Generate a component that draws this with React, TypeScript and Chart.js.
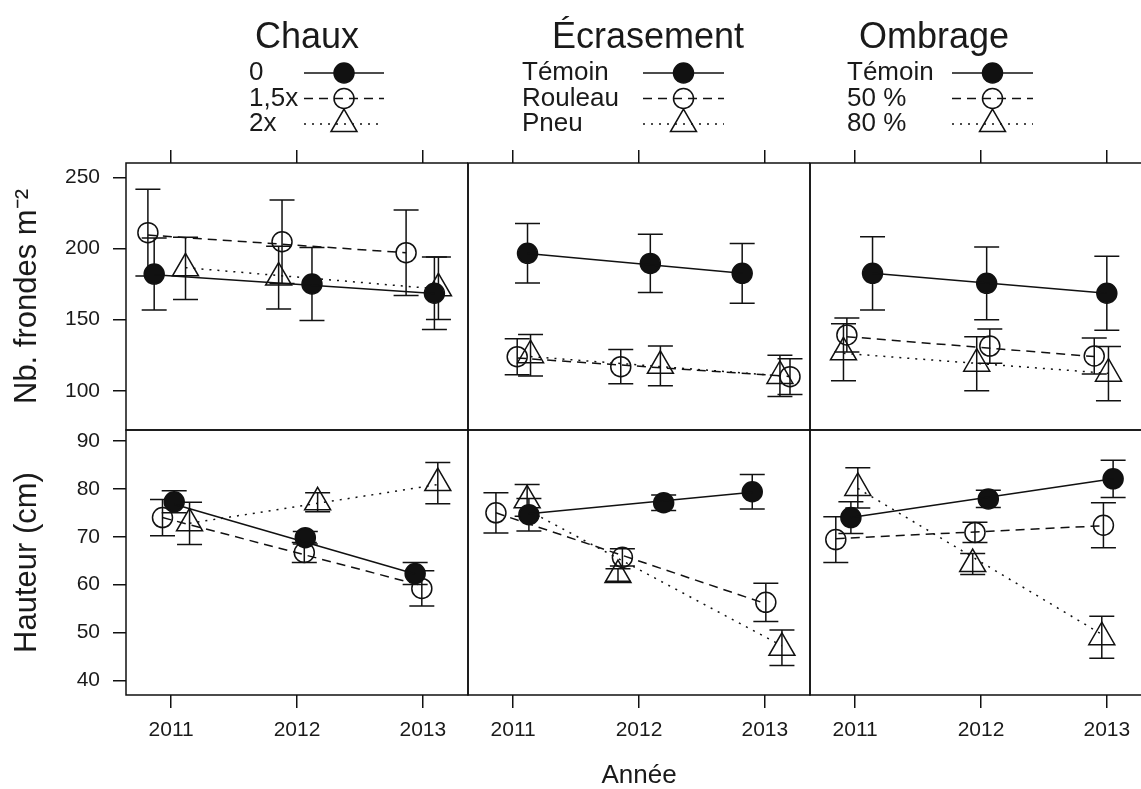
import React, { useEffect, useRef } from 'react';
import { Chart, registerables } from 'chart.js';

Chart.register(...registerables);

// ---------------- data ----------------
const YEARS = [2011, 2012, 2013];
const TREATMENTS = ['Chaux', 'Écrasement', 'Ombrage'];
const LEVELS = [
  ['0', '1,5x', '2x'],
  ['Témoin', 'Rouleau', 'Pneu'],
  ['Témoin', '50 %', '80 %'],
];
const ROW_TITLES = ['Nb. frondes m⁻²', 'Hauteur (cm)'];
const X_TITLE = 'Année';
const FRONDES_TICKS = [100, 150, 200, 250];
const HAUTEUR_TICKS = [40, 50, 60, 70, 80, 90];

// x = year with the small dodge of each point, [treatment][level][year]
const frondesX = [
  [[2010.865, 2012.119, 2013.092], [2010.815, 2011.881, 2012.867], [2011.114, 2011.854, 2013.124]],
  [[2011.114, 2012.09, 2012.82], [2011.032, 2011.855, 2013.2], [2011.138, 2012.17, 2013.12]],
  [[2011.138, 2012.045, 2013.0], [2010.934, 2012.07, 2012.9], [2010.907, 2011.966, 2013.013]],
];
const frondesMean = [
  [[182.0, 175.0, 168.5], [211.1, 204.7, 197.0], [186.0, 179.5, 172.0]],
  [[196.6, 189.5, 182.5], [123.9, 116.9, 109.9], [125.0, 117.5, 110.4]],
  [[182.5, 175.5, 168.5], [139.2, 131.4, 124.4], [127.0, 119.0, 112.0]],
];
const frondesSE = [
  [[25.3, 25.7, 25.5], [30.5, 29.3, 30.0], [21.8, 22.0, 22.0]],
  [[20.9, 20.5, 21.0], [12.7, 12.0, 12.5], [14.6, 14.0, 14.5]],
  [[25.8, 25.6, 26.0], [12.0, 12.0, 12.6], [20.0, 19.0, 19.0]],
];
const frondesFit = [
  [[181.5, 168.3], [209.4, 197.0], [186.5, 171.5]],
  [[196.5, 182.5], [123.0, 110.0], [124.0, 110.5]],
  [[182.5, 168.5], [138.0, 124.0], [126.3, 112.2]],
];

const hauteurX = [
  [[2011.024, 2012.066, 2012.939], [2010.931, 2012.058, 2012.992], [2011.146, 2012.164, 2013.119]],
  [[2011.125, 2012.196, 2012.9], [2010.863, 2011.868, 2013.008], [2011.111, 2011.833, 2013.136]],
  [[2010.966, 2012.058, 2013.05], [2010.846, 2011.952, 2012.973], [2011.021, 2011.934, 2012.96]],
];
const hauteurMean = [
  [[77.3, 69.8, 62.3], [74.0, 66.7, 59.2], [72.8, 77.2, 81.2]],
  [[74.6, 77.1, 79.4], [75.0, 65.7, 56.3], [77.6, 62.0, 46.8]],
  [[74.0, 77.9, 82.1], [69.4, 70.9, 72.4], [80.2, 64.3, 49.0]],
];
const hauteurSE = [
  [[2.3, 1.3, 2.3], [3.8, 2.1, 3.7], [4.4, 2.0, 4.3]],
  [[3.4, 1.6, 3.6], [4.2, 1.8, 4.0], [3.3, 1.3, 3.7]],
  [[3.3, 1.8, 3.9], [4.8, 2.1, 4.7], [4.2, 2.2, 4.4]],
];
const hauteurFit = [
  [[76.8, 62.2], [74.0, 59.8], [72.8, 80.9]],
  [[74.8, 79.3], [75.0, 56.0], [75.6, 47.2]],
  [[74.0, 82.1], [69.6, 72.3], [80.1, 49.6]],
];

// ---------------- styling / layout ----------------
const FONT = "'Liberation Sans', Arimo, Arial, Helvetica, sans-serif";
const INK = '#111111';
const TEXT = '#1a1a1a';
const CANVAS_W = 1141;
const CANVAS_H = 789;
const LW = 1.5;

const SERIES_STYLE = [
  { pointStyle: 'circle', radius: 10, filled: true, dash: [] as number[] },
  { pointStyle: 'circle', radius: 10, filled: false, dash: [9, 6] },
  { pointStyle: 'triangle', radius: 15, filled: false, dash: [2, 6] },
];

const KEY_LAYOUT = [
  { titleX: 307, textX: 249, lineX: [304, 384] },
  { titleX: 648, textX: 522, lineX: [643, 724] },
  { titleX: 934, textX: 847, lineX: [952, 1033] },
];
const KEY_TITLE_Y = 48;
const KEY_ROW_Y = [73, 98.5, 124];

// panel x-range; the third column is cut by the right edge of the picture
const X_MIN = 2010.641;
const X_MAX = 2013.359;
const COL_PX = [342, 342, 331];
const FULL_COL_PX = 342;

const ROWS = [
  { id: 'yF', x: frondesX, mean: frondesMean, se: frondesSE, fit: frondesFit, ticks: FRONDES_TICKS, min: 72.4, max: 260.05, weight: 1, stackWeight: 267, title: ROW_TITLES[0] },
  { id: 'yH', x: hauteurX, mean: hauteurMean, se: hauteurSE, fit: hauteurFit, ticks: HAUTEUR_TICKS, min: 36.93, max: 92.3, weight: 0, stackWeight: 265, title: ROW_TITLES[1] },
];

function buildDatasets() {
  const ds: any[] = [];
  ROWS.forEach((row) => {
    TREATMENTS.forEach((_, c) => {
      LEVELS[c].forEach((lvl, s) => {
        const st = SERIES_STYLE[s];
        const xs = row.x[c][s];
        ds.push({
          label: `${TREATMENTS[c]} ${lvl} fit`,
          xAxisID: `x${c}`,
          yAxisID: row.id,
          showLine: true,
          data: [
            { x: xs[0], y: row.fit[c][s][0] },
            { x: xs[xs.length - 1], y: row.fit[c][s][1] },
          ],
          borderColor: INK,
          borderWidth: LW,
          borderDash: st.dash,
          pointRadius: 0,
          fill: false,
          tension: 0,
        });
        ds.push({
          label: `${TREATMENTS[c]} ${lvl}`,
          xAxisID: `x${c}`,
          yAxisID: row.id,
          showLine: false,
          data: xs.map((x, i) => ({ x, y: row.mean[c][s][i] })),
          errors: row.se[c][s],
          pointStyle: st.pointStyle,
          pointRadius: st.radius,
          pointBackgroundColor: st.filled ? INK : 'rgba(0,0,0,0)',
          pointBorderColor: INK,
          pointBorderWidth: LW,
          borderColor: INK,
        });
      });
    });
  });
  return ds;
}

const gridTicks = {
  display: true,
  drawOnChartArea: false,
  drawTicks: true,
  tickLength: 13,
  tickWidth: LW,
  tickColor: INK,
  lineWidth: LW,
  color: INK,
};

function colMax(c: number) {
  return X_MIN + ((X_MAX - X_MIN) * COL_PX[c]) / FULL_COL_PX;
}

function noPad(s: any) {
  s.paddingLeft = 0;
  s.paddingRight = 0;
  s.paddingTop = 0;
  s.paddingBottom = 0;
}

function buildScales() {
  const scales: any = {};
  TREATMENTS.forEach((_, c) => {
    scales[`x${c}`] = {
      type: 'linear',
      position: 'bottom',
      stack: 'colsB',
      stackWeight: COL_PX[c],
      weight: c,
      min: X_MIN,
      max: colMax(c),
      afterBuildTicks: (s: any) => { s.ticks = YEARS.map((v) => ({ value: v })); },
      afterFit: (s: any) => { s.height = 94; noPad(s); },
      border: { display: false },
      grid: gridTicks,
      ticks: {
        autoSkip: false, maxRotation: 0, minRotation: 0, padding: 10,
        color: TEXT, font: { family: FONT, size: 21 },
        callback: (v: any) => String(v),
      },
      title: c === 1
        ? { display: true, text: X_TITLE, color: TEXT, font: { family: FONT, size: 26, lineHeight: 1 }, padding: { top: 0, bottom: 0 } }
        : { display: false },
    };
    scales[`xt${c}`] = {
      type: 'linear',
      position: 'top',
      stack: 'colsT',
      stackWeight: COL_PX[c],
      weight: 2 - c,
      min: X_MIN,
      max: colMax(c),
      afterBuildTicks: (s: any) => { s.ticks = YEARS.map((v) => ({ value: v })); },
      afterFit: (s: any) => { s.height = 13; noPad(s); },
      border: { display: false },
      grid: gridTicks,
      ticks: { display: false },
    };
  });
  ROWS.forEach((row) => {
    scales[row.id] = {
      type: 'linear',
      position: 'left',
      stack: 'rows',
      stackWeight: row.stackWeight,
      weight: row.weight,
      min: row.min,
      max: row.max,
      afterBuildTicks: (s: any) => { s.ticks = row.ticks.map((v) => ({ value: v })); },
      afterFit: (s: any) => { s.width = 126; noPad(s); },
      border: { display: false },
      grid: gridTicks,
      ticks: {
        autoSkip: false, padding: 13, color: TEXT,
        font: { family: FONT, size: 21 },
        callback: (v: any) => String(v),
      },
      title: {
        display: true, text: row.title, color: TEXT,
        font: { family: FONT, size: 31, lineHeight: 1 },
        padding: { top: 12, bottom: 0 },
      },
    };
  });
  return scales;
}

const framePlugin = {
  id: 'panelFrames',
  beforeDatasetsDraw(chart: any) {
    const { ctx } = chart;
    ctx.save();
    ctx.strokeStyle = INK;
    ctx.lineWidth = LW;
    TREATMENTS.forEach((_, c) => {
      ROWS.forEach((row) => {
        const xs = chart.scales[`x${c}`];
        const ys = chart.scales[row.id];
        ctx.beginPath();
        ctx.moveTo(xs.right, ys.top);
        ctx.lineTo(xs.left, ys.top);
        ctx.lineTo(xs.left, ys.bottom);
        ctx.lineTo(xs.right, ys.bottom);
        if (COL_PX[c] === FULL_COL_PX) ctx.lineTo(xs.right, ys.top);
        ctx.stroke();
      });
    });
    // error bars
    chart.data.datasets.forEach((d: any) => {
      if (!d.errors) return;
      const xs = chart.scales[d.xAxisID];
      const ys = chart.scales[d.yAxisID];
      d.data.forEach((p: any, j: number) => {
        const x = xs.getPixelForValue(p.x);
        const y1 = ys.getPixelForValue(p.y + d.errors[j]);
        const y2 = ys.getPixelForValue(p.y - d.errors[j]);
        ctx.beginPath();
        ctx.moveTo(x, y1); ctx.lineTo(x, y2);
        ctx.moveTo(x - 12.5, y1); ctx.lineTo(x + 12.5, y1);
        ctx.moveTo(x - 12.5, y2); ctx.lineTo(x + 12.5, y2);
        ctx.stroke();
      });
    });
    ctx.restore();
  },
};

function drawKeyMarker(ctx: CanvasRenderingContext2D, s: number, x: number, y: number) {
  const st = SERIES_STYLE[s];
  ctx.beginPath();
  ctx.setLineDash([]);
  if (st.pointStyle === 'triangle') {
    const r = st.radius;
    const dx = r * Math.sin((2 * Math.PI) / 3);
    ctx.moveTo(x, y - r);
    ctx.lineTo(x + dx, y + r / 2);
    ctx.lineTo(x - dx, y + r / 2);
    ctx.closePath();
  } else {
    ctx.arc(x, y, st.radius, 0, Math.PI * 2);
  }
  if (st.filled) ctx.fill();
  ctx.stroke();
}

const keyPlugin = {
  id: 'treatmentKeys',
  afterDraw(chart: any) {
    const { ctx } = chart;
    ctx.save();
    ctx.fillStyle = INK;
    ctx.strokeStyle = INK;
    ctx.lineWidth = LW;
    TREATMENTS.forEach((t, c) => {
      const k = KEY_LAYOUT[c];
      ctx.font = `36px ${FONT}`;
      ctx.textAlign = 'center';
      ctx.textBaseline = 'alphabetic';
      ctx.fillStyle = TEXT;
      ctx.fillText(t, k.titleX, KEY_TITLE_Y);
      LEVELS[c].forEach((lvl, s) => {
        const y = KEY_ROW_Y[s];
        ctx.font = `26px ${FONT}`;
        ctx.textAlign = 'left';
        ctx.textBaseline = 'middle';
        ctx.fillStyle = TEXT;
        ctx.fillText(lvl, k.textX, y);
        ctx.fillStyle = INK;
        ctx.beginPath();
        ctx.setLineDash(SERIES_STYLE[s].dash);
        ctx.moveTo(k.lineX[0], y);
        ctx.lineTo(k.lineX[1], y);
        ctx.stroke();
        drawKeyMarker(ctx, s, (k.lineX[0] + k.lineX[1]) / 2, y);
      });
    });
    ctx.restore();
  },
};

export default function App() {
  const ref = useRef<HTMLCanvasElement | null>(null);
  useEffect(() => {
    if (!ref.current) return;
    Chart.defaults.font.family = FONT;
    const chart = new Chart(ref.current, {
      type: 'scatter',
      data: { datasets: buildDatasets() },
      options: {
        animation: false,
        responsive: false,
        devicePixelRatio: 1,
        events: [],
        layout: { autoPadding: false, padding: { top: 150, left: 0, right: 0, bottom: 0 } },
        plugins: { legend: { display: false }, tooltip: { enabled: false }, title: { display: false } },
        scales: buildScales(),
      } as any,
      plugins: [framePlugin, keyPlugin],
    });
    return () => chart.destroy();
  }, []);
  return (
    <div style={{ position: 'fixed', left: 0, top: 0, width: CANVAS_W, height: CANVAS_H, overflow: 'hidden', background: '#fff' }}>
      <canvas
        ref={ref}
        width={CANVAS_W}
        height={CANVAS_H}
        style={{ display: 'block', width: `${CANVAS_W}px`, height: `${CANVAS_H}px` }}
      />
    </div>
  );
}
